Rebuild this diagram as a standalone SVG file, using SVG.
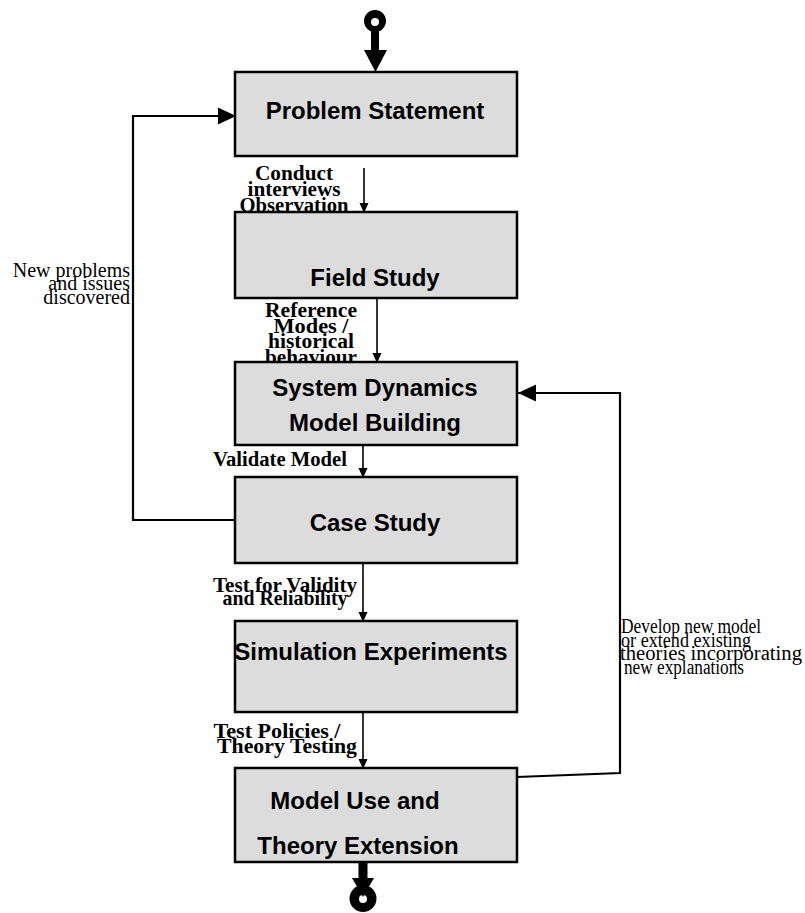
<svg xmlns="http://www.w3.org/2000/svg" width="805" height="913" viewBox="0 0 805 913">
<style>
.box{fill:#dcdcdc;stroke:#000;stroke-width:2.5}
.bl{font-family:"Liberation Sans",Arial,sans-serif;font-weight:bold;font-size:24px;fill:#000;text-anchor:middle}
.cl{font-family:"Liberation Serif","Times New Roman",serif;font-weight:bold;font-size:20px;fill:#000;text-anchor:middle}
.fl{font-family:"Liberation Serif","Times New Roman",serif;font-size:20px;fill:#000}
.ln{fill:none;stroke:#000;stroke-width:1.6}
.lp{fill:none;stroke:#000;stroke-width:2.2}
</style>
<defs>
<marker id="sm" markerUnits="userSpaceOnUse" markerWidth="10" markerHeight="10" refX="9" refY="4.5" orient="auto" viewBox="0 0 10 9">
<path d="M0,0 L10,4.5 L0,9 Z" fill="#000"/>
</marker>
<marker id="lg" markerUnits="userSpaceOnUse" markerWidth="18" markerHeight="18" refX="18" refY="8.5" orient="auto" viewBox="0 0 18 17">
<path d="M0,0 L18,8.5 L0,17 Z" fill="#000"/>
</marker>
</defs>

<g id="start">
<circle cx="375" cy="21" r="11" fill="#000"/>
<circle cx="375" cy="22" r="4" fill="#fff"/>
<rect x="371" y="30" width="8" height="22" fill="#000"/>
<path d="M364,50 L387,50 L375.5,72 Z" fill="#000"/>
</g>

<g id="labels">
<text class="cl" x="294" y="180" textLength="78" lengthAdjust="spacingAndGlyphs">Conduct</text>
<text class="cl" x="294" y="196" textLength="93" lengthAdjust="spacingAndGlyphs">interviews</text>
<text class="cl" x="294" y="212" textLength="109" lengthAdjust="spacingAndGlyphs">Observation</text>
<text class="cl" x="311" y="317" textLength="92" lengthAdjust="spacingAndGlyphs">Reference</text>
<text class="cl" x="311" y="333" textLength="75" lengthAdjust="spacingAndGlyphs">Modes /</text>
<text class="cl" x="311" y="348" textLength="86" lengthAdjust="spacingAndGlyphs">historical</text>
<text class="cl" x="311" y="364" textLength="92" lengthAdjust="spacingAndGlyphs">behaviour</text>
<text class="cl" x="280" y="466" textLength="134" lengthAdjust="spacingAndGlyphs">Validate Model</text>
<text class="cl" x="285" y="592" textLength="144" lengthAdjust="spacingAndGlyphs">Test for Validity</text>
<text class="cl" x="285" y="605" textLength="125" lengthAdjust="spacingAndGlyphs">and Reliability</text>
<text class="cl" x="277" y="738" textLength="127" lengthAdjust="spacingAndGlyphs">Test Policies /</text>
<text class="cl" x="287" y="753" textLength="140" lengthAdjust="spacingAndGlyphs">Theory Testing</text>
<text class="fl" x="130" y="277" text-anchor="end">New problems</text>
<text class="fl" x="130" y="290" text-anchor="end">and issues</text>
<text class="fl" x="130" y="304" text-anchor="end">discovered</text>
<text class="fl" x="621" y="633" font-size="19" textLength="140" lengthAdjust="spacingAndGlyphs">Develop new model</text>
<text class="fl" x="621" y="647" font-size="19" textLength="130" lengthAdjust="spacingAndGlyphs">or extend existing</text>
<text class="fl" x="620" y="660" font-size="19" textLength="182" lengthAdjust="spacingAndGlyphs">theories incorporating</text>
<text class="fl" x="624" y="674" font-size="19" textLength="120" lengthAdjust="spacingAndGlyphs">new explanations</text>
</g>

<g id="connectors">
<line class="ln" x1="364" y1="168" x2="364" y2="212" marker-end="url(#sm)"/>
<line class="ln" x1="377" y1="298" x2="377" y2="362" marker-end="url(#sm)"/>
<line class="ln" x1="363" y1="445" x2="363" y2="477" marker-end="url(#sm)"/>
<line class="ln" x1="363" y1="563" x2="363" y2="621" marker-end="url(#sm)"/>
<line class="ln" x1="363" y1="712" x2="363" y2="768" marker-end="url(#sm)"/>
<polyline class="lp" points="235,520 133,520 133,116 236,116" marker-end="url(#lg)"/>
<polyline class="lp" points="517,777 620,773 620,393 518,393" marker-end="url(#lg)"/>
</g>

<g id="n1"><rect class="box" x="235" y="72" width="282" height="84"/><text class="bl" x="375" y="119" font-size="23">Problem Statement</text></g>
<g id="n2"><rect class="box" x="235" y="212" width="282" height="86"/><text class="bl" x="375" y="286">Field Study</text></g>
<g id="n3"><rect class="box" x="235" y="362" width="282" height="83"/><text class="bl" x="375" y="396">System Dynamics</text><text class="bl" x="375" y="431">Model Building</text></g>
<g id="n4"><rect class="box" x="235" y="477" width="282" height="86"/><text class="bl" x="375" y="531">Case Study</text></g>
<g id="n5"><rect class="box" x="235" y="621" width="282" height="91"/><text class="bl" x="371" y="660" font-size="23">Simulation Experiments</text></g>
<g id="n6"><rect class="box" x="235" y="768" width="282" height="94"/><text class="bl" x="355" y="809" font-size="27">Model Use and</text><text class="bl" x="358" y="854" font-size="27">Theory Extension</text></g>

<g id="end">
<rect x="358.5" y="862" width="9" height="20" fill="#000"/>
<circle cx="363" cy="898.5" r="13.5" fill="#000"/>
<circle cx="363" cy="899" r="4" fill="#fff"/>
<path d="M352,878 L374,878 L363,897 Z" fill="#000"/>
</g>
</svg>
